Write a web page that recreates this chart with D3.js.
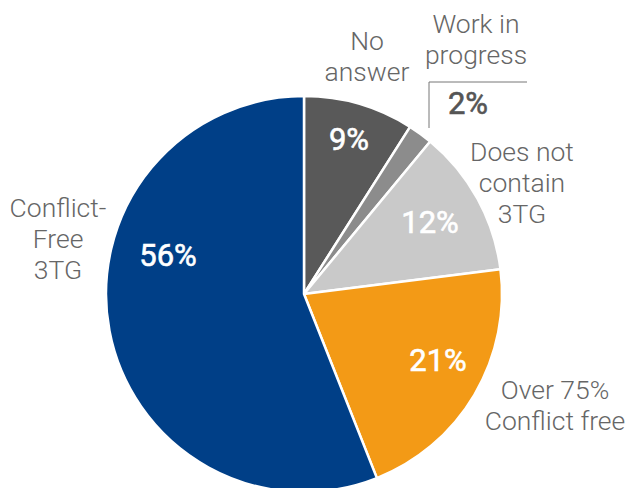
<!DOCTYPE html>
<html>
<head>
<meta charset="utf-8">
<script src="https://cdn.jsdelivr.net/npm/d3@7"></script>
<style>
  html, body { margin: 0; padding: 0; background: #fff; }
  svg { display: block; font-family: Roboto, "Noto Sans", sans-serif; }
</style>
</head>
<body>
<svg id="chart" width="629" height="488"></svg>
<script>
// Share of suppliers by 3TG status (percent)
const categories = ["No answer", "Work in progress", "Does not contain 3TG", "Over 75% Conflict free", "Conflict-Free 3TG"];
const shares = [9, 2, 12, 21, 56];
const sliceColors = ["#595959", "#8c8c8c", "#c9c9c9", "#f39a16", "#003f87"];

// Name labels (multi-line) shown outside the pie
const nameLines = [["No", "answer"], ["Work in", "progress"], ["Does not", "contain", "3TG"], ["Over 75%", "Conflict free"], ["Conflict-", "Free", "3TG"]];

// Layout (relative to pie centre)
const cx = 304, cy = 294, radius = 198;
const valueLabelPos = [[45, -155], [164, -191], [126, -72], [134, 66], [-136, -39]];
const valueLabelFill = ["#fff", "#555", "#fff", "#fff", "#fff"];
const nameLabelPos = [[63, -244], [172, -261], [218, -133], [251, 105], [-246, -77]];
const lineHeight = 31;

const svg = d3.select("#chart");
const g = svg.append("g").attr("transform", `translate(${cx},${cy})`);

const pie = d3.pie().sort(null).value(d => d)(shares);
const arc = d3.arc().innerRadius(0).outerRadius(radius);

g.selectAll("path.slice")
  .data(pie)
  .join("path")
  .attr("class", "slice")
  .attr("d", arc)
  .attr("fill", (d, i) => sliceColors[i])
  .attr("stroke", "#fff")
  .attr("stroke-width", 2.5)
  .attr("stroke-linejoin", "round");

// Leader bracket for the small slice label
g.append("path")
  .attr("d", "M125,-166 L125,-212 L223,-212")
  .attr("fill", "none")
  .attr("stroke", "#777")
  .attr("stroke-width", 1);

// Percent labels
g.selectAll("text.value")
  .data(pie)
  .join("text")
  .attr("class", "value")
  .attr("x", (d, i) => valueLabelPos[i][0])
  .attr("y", (d, i) => valueLabelPos[i][1])
  .attr("dy", "0.36em")
  .attr("text-anchor", "middle")
  .attr("font-size", 31)
  .attr("font-weight", 400)
  .attr("fill", (d, i) => valueLabelFill[i])
  .attr("stroke", (d, i) => valueLabelFill[i])
  .attr("stroke-width", 0.6)
  .text(d => d.data + "%");

// Category labels
const names = g.selectAll("text.name")
  .data(nameLines)
  .join("text")
  .attr("class", "name")
  .attr("text-anchor", "middle")
  .attr("font-size", 26.5)
  .attr("font-weight", 300)
  .attr("fill", "#666");

names.selectAll("tspan")
  .data((d, i) => d.map((line, j) => ({ line, j, i })))
  .join("tspan")
  .attr("x", d => nameLabelPos[d.i][0])
  .attr("y", d => nameLabelPos[d.i][1] + d.j * lineHeight)
  .text(d => d.line);
</script>
</body>
</html>
